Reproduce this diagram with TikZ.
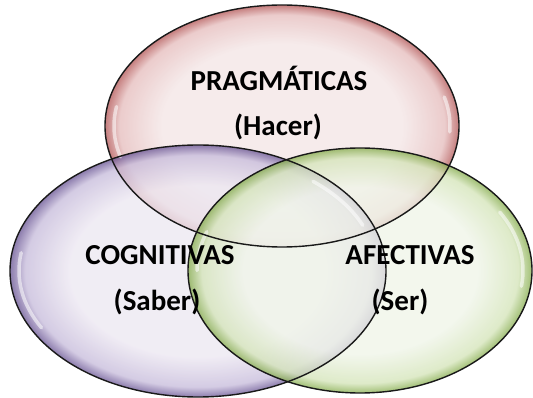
\documentclass[tikz,border=0pt]{standalone}
\usepackage{fontspec}
\setmainfont{Carlito}
\usetikzlibrary{shapes.geometric}
\definecolor{redin}{HTML}{F4E6E6}
\definecolor{redmid}{HTML}{E6BEBE}
\definecolor{redout}{HTML}{B55A5A}
\definecolor{purin}{HTML}{EDE8F2}
\definecolor{purmid}{HTML}{C8BDDC}
\definecolor{purout}{HTML}{6C5896}
\definecolor{grnin}{HTML}{F0F5E9}
\definecolor{grnmid}{HTML}{D5E5BA}
\definecolor{grnout}{HTML}{88AE50}
\pgfdeclareradialshading{redglass}{\pgfpointorigin}{color(0bp)=(redin); color(17bp)=(redin); color(23bp)=(redmid); color(25bp)=(redout); color(50bp)=(redout)}
\pgfdeclareradialshading{purglass}{\pgfpointorigin}{color(0bp)=(purin); color(17bp)=(purin); color(23bp)=(purmid); color(25bp)=(purout); color(50bp)=(purout)}
\pgfdeclareradialshading{grnglass}{\pgfpointorigin}{color(0bp)=(grnin); color(17bp)=(grnin); color(23bp)=(grnmid); color(25bp)=(grnout); color(50bp)=(grnout)}
\tikzset{
  bubble/.style={ellipse, inner sep=0pt, fill opacity=0.78},
  rim/.style={draw=black!90, line width=1.4pt},
  gloss/.style={draw=white, line width=3.5pt, opacity=0.55, line cap=round},
  lbl/.style={font=\fontsize{29}{33}\selectfont\bfseries, inner sep=0pt, anchor=base, text=black}
}
\begin{document}
\begin{tikzpicture}[x=1pt, y=-1pt]
\useasboundingbox (0,0) rectangle (533,398);
\fill[white] (0,0) rectangle (533,398);
% filled bubbles
\node[bubble, shading=redglass, minimum width=354pt, minimum height=242pt] (red) at (282,126) {};
\node[bubble, shading=purglass, minimum width=376pt, minimum height=252pt] (pur) at (198,271) {};
\node[bubble, shading=grnglass, minimum width=344pt, minimum height=245pt] (grn) at (360,270.5) {};
% gloss highlights
\draw[gloss] (red.center) ++(170:168pt and 112pt) arc[start angle=170, end angle=196, x radius=168pt, y radius=112pt];
\draw[gloss] (red.center) ++(-3:168pt and 112pt) arc[start angle=-3, end angle=15, x radius=168pt, y radius=112pt];
\draw[gloss] (pur.center) ++(171:179pt and 117pt) arc[start angle=171, end angle=209, x radius=179pt, y radius=117pt];
\draw[gloss] (pur.center) ++(23:179pt and 117pt) arc[start angle=23, end angle=50, x radius=179pt, y radius=117pt];
\draw[gloss] (grn.center) ++(-8:163pt and 113.5pt) arc[start angle=-8, end angle=31, x radius=163pt, y radius=113.5pt];
\draw[gloss] (grn.center) ++(160:163pt and 113.5pt) arc[start angle=160, end angle=180, x radius=163pt, y radius=113.5pt];
% outlines
\draw[rim] (red.center) ellipse [x radius=177pt, y radius=121pt];
\draw[rim] (pur.center) ellipse [x radius=188pt, y radius=126pt];
\draw[rim] (grn.center) ellipse [x radius=172pt, y radius=122.5pt];
% labels
\node[lbl] (prag) at (279,91) {PRAGMÁTICAS};
\node[lbl] (hacer) at (278,136) {(Hacer)};
\node[lbl] (cogn) at (160,265) {COGNITIVAS};
\node[lbl] (saber) at (157,310) {(Saber)};
\node[lbl] (afec) at (410,265) {AFECTIVAS};
\node[lbl] (ser) at (400,310) {(Ser)};
\end{tikzpicture}
\end{document}
